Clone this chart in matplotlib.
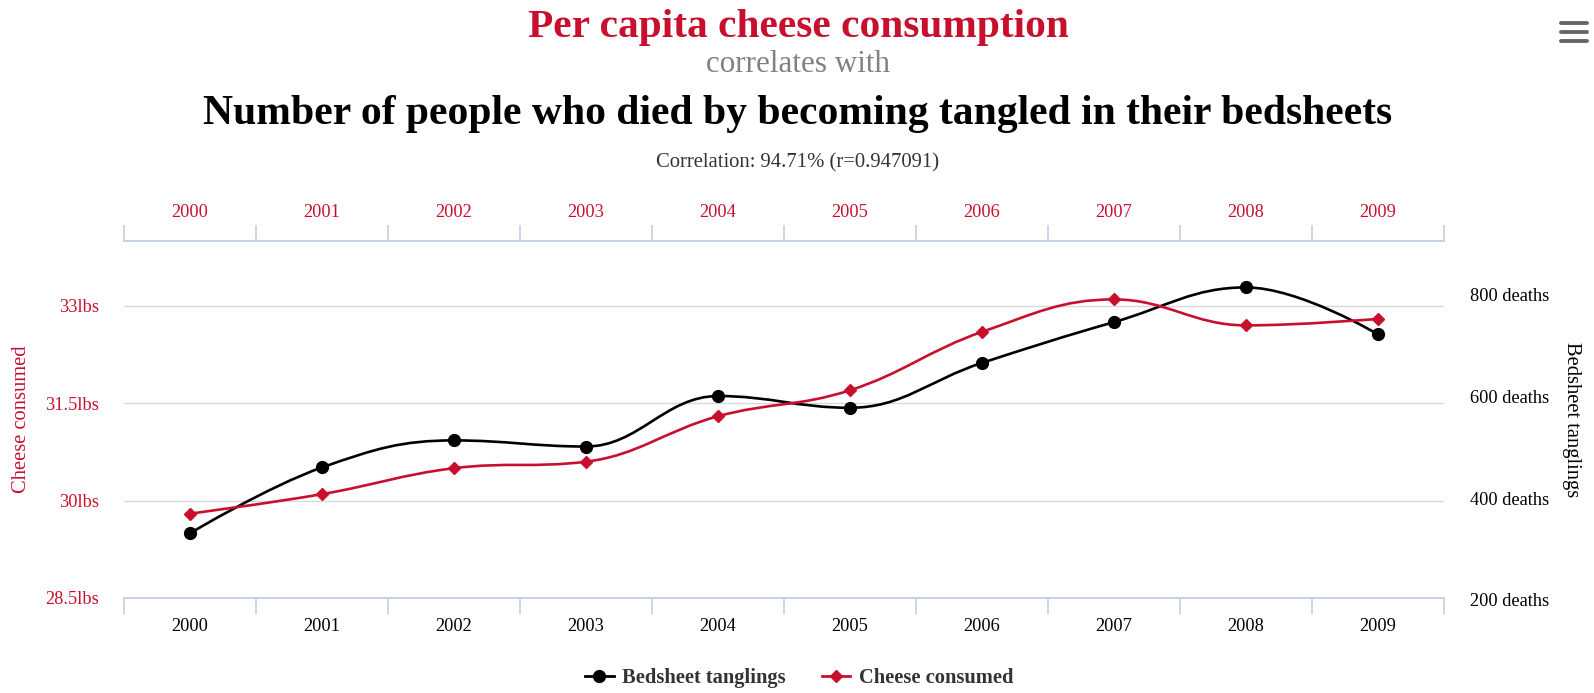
import numpy as np
import matplotlib
matplotlib.use("Agg")
import matplotlib.pyplot as plt
import matplotlib.transforms as mtransforms
from matplotlib.path import Path
from matplotlib.patches import PathPatch
from matplotlib.lines import Line2D

plt.rcParams['font.family'] = ['Liberation Serif', 'DejaVu Serif']

# --- data ---
years = ['2000', '2001', '2002', '2003', '2004', '2005', '2006', '2007', '2008', '2009']
cheese_lbs = [29.8, 30.1, 30.5, 30.6, 31.3, 31.7, 32.6, 33.1, 32.7, 32.8]
bedsheet_deaths = [327, 456, 509, 497, 596, 573, 661, 741, 809, 717]
cheese_ticks = [28.5, 30, 31.5, 33]
cheese_tick_labels = ['28.5lbs', '30lbs', '31.5lbs', '33lbs']
death_ticks = [200, 400, 600, 800]
death_tick_labels = ['200 deaths', '400 deaths', '600 deaths', '800 deaths']

RED = '#c8102e'
AXIS_BLUE = '#c0d0e0'
GRID = '#d8d8d8'

W, H = 1594, 693


def spline_path(xs, ys):
    """Highcharts-style spline through the points (cubic bezier segments)."""
    smoothing, denom = 1.5, 2.5
    n = len(xs)
    lc = [None] * n
    rc = [None] * n
    for i in range(1, n - 1):
        px, py = xs[i], ys[i]
        lx, ly = xs[i - 1], ys[i - 1]
        nx, ny = xs[i + 1], ys[i + 1]
        lcx = (smoothing * px + lx) / denom
        lcy = (smoothing * py + ly) / denom
        rcx = (smoothing * px + nx) / denom
        rcy = (smoothing * py + ny) / denom
        if rcx != lcx:
            corr = (rcy - lcy) * (rcx - px) / (rcx - lcx) + py - rcy
            lcy += corr
            rcy += corr
        if lcy > ly and lcy > py:
            lcy = max(ly, py)
            rcy = 2 * py - lcy
        elif lcy < ly and lcy < py:
            lcy = min(ly, py)
            rcy = 2 * py - lcy
        if rcy > ny and rcy > py:
            rcy = max(ny, py)
            lcy = 2 * py - rcy
        elif rcy < ny and rcy < py:
            rcy = min(ny, py)
            lcy = 2 * py - rcy
        lc[i] = (lcx, lcy)
        rc[i] = (rcx, rcy)
    verts = [(xs[0], ys[0])]
    codes = [Path.MOVETO]
    for i in range(1, n):
        c1 = rc[i - 1] if rc[i - 1] is not None else (xs[i - 1], ys[i - 1])
        c2 = lc[i] if lc[i] is not None else (xs[i], ys[i])
        verts += [c1, c2, (xs[i], ys[i])]
        codes += [Path.CURVE4] * 3
    return Path(verts, codes)


fig = plt.figure(figsize=(W / 100, H / 100), dpi=100)
fig.patch.set_facecolor('white')

# plot area in pixels: x 124..1444, y 241..598
ax = fig.add_axes([124 / W, 1 - 598 / H, 1320 / W, 357 / H])
ax2 = ax.twinx()

x = np.arange(len(years))
ax.set_xlim(-0.5, len(years) - 0.5)
ax.set_ylim(28.5, 34)
ax2.set_ylim(200, 900)

# grid + axis lines
ax.set_yticks(cheese_ticks)
ax.set_yticklabels(cheese_tick_labels)
ax.yaxis.grid(True, color=GRID, linewidth=1)
ax.set_axisbelow(True)
ax.tick_params(axis='y', length=0, pad=18, labelsize=13.2, labelcolor=RED)

ax2.set_yticks(death_ticks)
ax2.set_yticklabels(death_tick_labels)
ax2.tick_params(axis='y', length=0, pad=19, labelsize=13.2, labelcolor='#000000')

# nudge y tick labels slightly downward
for t in ax.get_yticklabels():
    t.set_va('center')
    t.set_transform(t.get_transform() + mtransforms.ScaledTranslation(0, -0.02, fig.dpi_scale_trans))
for t in ax2.get_yticklabels():
    t.set_va('center')
    t.set_transform(t.get_transform() + mtransforms.ScaledTranslation(0, -0.04, fig.dpi_scale_trans))

for a in (ax, ax2):
    for s in ('left', 'right', 'top', 'bottom'):
        a.spines[s].set_visible(False)
ax.spines['bottom'].set_visible(True)
ax.spines['bottom'].set_color(AXIS_BLUE)
ax.spines['bottom'].set_linewidth(1.3)

ax.set_xticks(x)
ax.set_xticklabels(years)
ax.set_xticks(np.arange(-0.5, len(years), 1), minor=True)
ax.tick_params(axis='x', which='major', length=0, pad=14.5, labelsize=13.2, labelcolor='#000000')
ax.tick_params(axis='x', which='minor', length=11.5, width=1.2, color=AXIS_BLUE, direction='out')

top = ax.secondary_xaxis('top')
top.set_xticks(x)
top.set_xticklabels(years)
top.set_xticks(np.arange(-0.5, len(years), 1), minor=True)
top.tick_params(axis='x', which='major', length=0, pad=14.5, labelsize=13.2, labelcolor=RED)
top.tick_params(axis='x', which='minor', length=11.5, width=1.2, color=AXIS_BLUE, direction='out')
top.spines['top'].set_color(AXIS_BLUE)
top.spines['top'].set_linewidth(1.3)

# series: bedsheet deaths use right-axis scale, cheese uses left-axis scale
death_trans = mtransforms.blended_transform_factory(ax.transData, ax2.transData)

ax.add_patch(PathPatch(spline_path(x, bedsheet_deaths), fill=False, edgecolor='black',
                       linewidth=1.9, transform=death_trans, zorder=3))
ax.plot(x, bedsheet_deaths, linestyle='none', marker='o', markersize=8.5,
        color='black', transform=death_trans, zorder=4)

ax.add_patch(PathPatch(spline_path(x, cheese_lbs), fill=False, edgecolor=RED,
                       linewidth=1.9, zorder=5))
ax.plot(x, cheese_lbs, linestyle='none', marker='D', markersize=6,
        color=RED, zorder=6)

# axis titles
fig.text(22 / W, 1 - 419 / H, 'Cheese consumed', rotation=90, color=RED,
         fontsize=14.8, ha='center', va='center')
fig.text(1571 / W, 1 - 420 / H, 'Bedsheet tanglings', rotation=270, color='black',
         fontsize=14.8, ha='center', va='center')

# titles
cx = 798 / W
fig.text(cx, 1 - 27 / H, 'Per capita cheese consumption', color=RED, fontsize=29.8,
         fontweight='bold', ha='center', va='center')
fig.text(cx, 1 - 65 / H, 'correlates with', color='#808080', fontsize=22.4,
         ha='center', va='center')
fig.text(cx, 1 - 114 / H, 'Number of people who died by becoming tangled in their bedsheets',
         color='black', fontsize=30, fontweight='bold', ha='center', va='center')
fig.text(cx, 1 - 163 / H, 'Correlation: 94.71% (r=0.947091)', color='#333333',
         fontsize=14.9, ha='center', va='center')

# legend
handles = [
    Line2D([], [], color='black', linewidth=2, marker='o', markersize=8.5),
    Line2D([], [], color=RED, linewidth=2, marker='D', markersize=6),
]
leg = fig.legend(handles, ['Bedsheet tanglings', 'Cheese consumed'], loc='center',
                 bbox_to_anchor=(799 / W, 1 - 678 / H), ncol=2, frameon=False,
                 prop={'weight': 'bold', 'size': 14.8}, handlelength=1.4,
                 handletextpad=0.4, columnspacing=1.75)
for t in leg.get_texts():
    t.set_color('#333333')

# menu icon
for yy in (22.5, 31.5, 40.5):
    fig.add_artist(Line2D([1561 / W, 1587 / W], [1 - yy / H, 1 - yy / H],
                          transform=fig.transFigure, color='#666666',
                          linewidth=2.8, solid_capstyle='round'))

fig.savefig('out.png', dpi=100, facecolor='white')
